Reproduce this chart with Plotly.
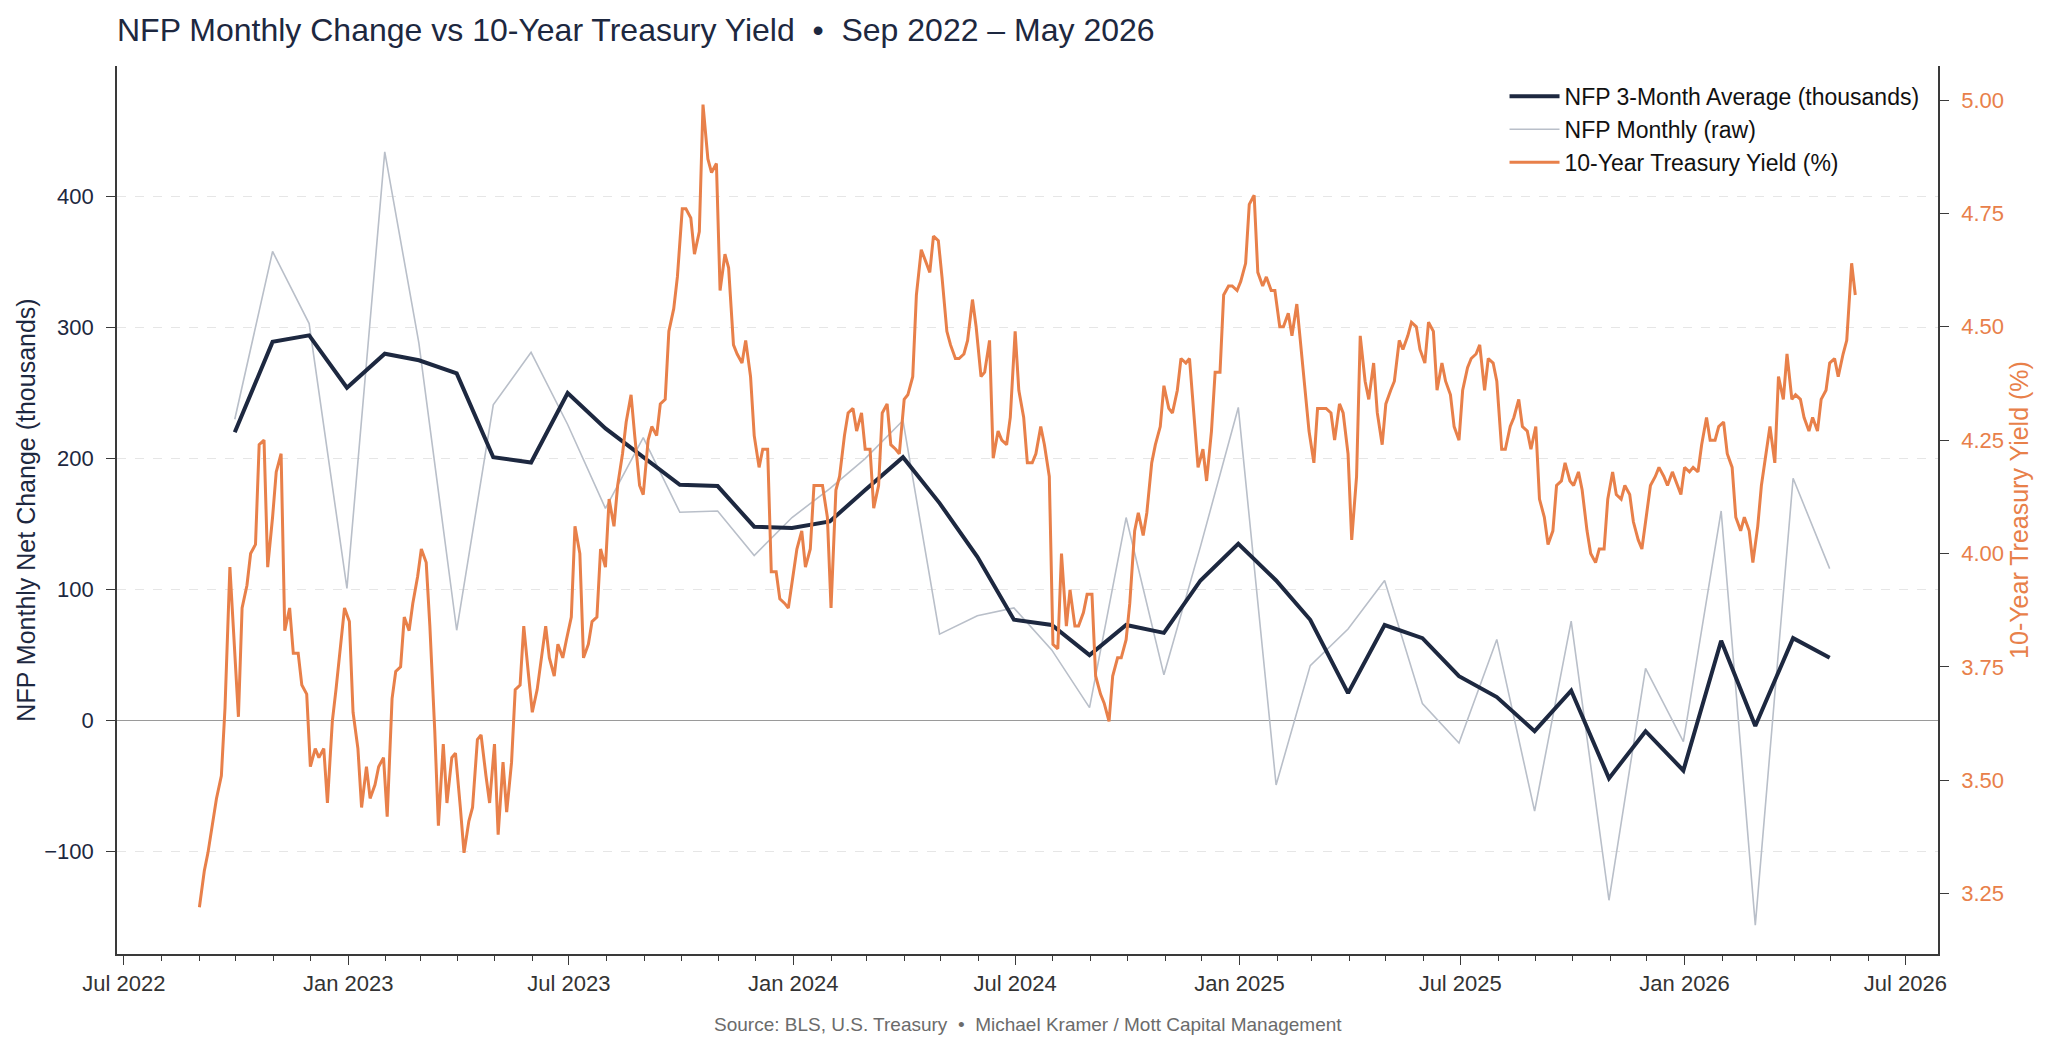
import pandas as pd
import plotly.graph_objects as go

# ---------------- data ----------------
nfp_months = pd.period_range("2022-09", "2026-04", freq="M")
nfp_dates = nfp_months.to_timestamp(how="end").normalize()

nfp_raw = [230, 358, 303, 101,
           434, 288, 69, 241, 281, 226, 162, 216, 159, 160, 126, 155,
           177, 200, 229, 66, 80, 86, 54, 10, 155, 35, 133, 239,
           -49, 42, 70, 107, 13, -17, 62, -69, 76, -137, 40, -16,
           160, -156, 185, 116]

nfp_3m = [220, 289, 294, 254,
          280, 275, 265, 201, 197, 250, 223, 201, 180, 179, 148, 147,
          152, 176, 201, 166, 125, 77, 73, 50, 73, 67, 107, 135,
          107, 77, 21, 73, 63, 34, 18, -8, 23, -44, -8, -38,
          61, -4, 63, 48]

left_ticks = [-100, 0, 100, 200, 300, 400]
right_ticks = [3.25, 3.50, 3.75, 4.00, 4.25, 4.50, 4.75, 5.00]

# 10-year yield, read twice a week (Thursdays and the following Mondays)
yield_thu_dates = pd.date_range("2022-09-01", periods=195, freq="7D")
yield_thu = [
    3.22, 3.34, 3.46, 3.66, 3.82, 3.88, 4.00, 4.24, 3.97, 4.18,
    3.83, 3.78, 3.71, 3.53, 3.55, 3.45, 3.70, 3.88, 3.65, 3.44,
    3.46, 3.53, 3.42, 3.74, 3.86, 3.89, 4.01, 3.84, 3.40, 3.45,
    3.56, 3.34, 3.44, 3.60, 3.45, 3.38, 3.43, 3.70, 3.84, 3.65,
    3.76, 3.77, 3.80, 3.81, 4.06, 3.77, 3.85, 4.01, 4.12, 4.15,
    4.29, 4.26, 4.13, 4.28, 4.33, 4.49, 4.61, 4.76, 4.66, 4.99,
    4.84, 4.58, 4.63, 4.44, 4.47, 4.26, 4.23, 3.96, 3.90, 3.88,
    4.01, 3.97, 4.15, 4.15, 3.88, 4.17, 4.31, 4.27, 4.23, 4.10,
    4.31, 4.24, 4.22, 4.35, 4.57, 4.65, 4.70, 4.61, 4.46, 4.43,
    4.47, 4.50, 4.40, 4.21, 4.25, 4.30, 4.36, 4.20, 4.22, 4.24,
    3.80, 4.00, 3.92, 3.84, 3.91, 3.73, 3.67, 3.73, 3.77, 3.89,
    4.09, 4.09, 4.24, 4.37, 4.31, 4.43, 4.43, 4.19, 4.16, 4.40,
    4.57, 4.59, 4.60, 4.77, 4.62, 4.61, 4.58, 4.50, 4.48, 4.47,
    4.27, 4.32, 4.32, 4.25, 4.31, 4.03, 4.48, 4.34, 4.31, 4.33,
    4.38, 4.45, 4.51, 4.45, 4.51, 4.36, 4.38, 4.28, 4.36, 4.43,
    4.46, 4.43, 4.38, 4.23, 4.30, 4.28, 4.23, 4.12, 4.02, 4.15,
    4.20, 4.15, 4.14, 4.00, 4.01, 4.12, 4.13, 4.15, 4.07, 4.01,
    4.15, 4.19, 4.15, 4.16, 4.19, 4.19, 4.24, 4.25, 4.28, 4.22,
    4.08, 4.08, 3.98, 4.15, 4.28, 4.39, 4.44, 4.35, 4.30, 4.30,
    4.34, 4.42, 4.39, 4.47, 4.57,
]
yield_mon_dates = pd.date_range("2022-09-05", periods=194, freq="7D")
yield_mon = [
    3.30, 3.41, 3.51, 3.97, 3.64, 3.93, 4.02, 4.25, 4.08, 4.22,
    3.88, 3.78, 3.69, 3.57, 3.57, 3.63, 3.80, 3.85, 3.57, 3.53,
    3.49, 3.55, 3.68, 3.75, 3.83, 3.95, 3.98, 3.61, 3.58, 3.55,
    3.44, 3.41, 3.59, 3.51, 3.58, 3.54, 3.54, 3.71, 3.73, 3.70,
    3.84, 3.73, 3.77, 3.86, 4.00, 3.80, 3.86, 3.97, 4.06, 4.22,
    4.35, 4.15, 4.25, 4.26, 4.34, 4.54, 4.76, 4.74, 4.71, 4.87,
    4.86, 4.66, 4.46, 4.42, 4.39, 4.19, 4.23, 3.96, 3.89, 3.96,
    4.05, 4.01, 4.15, 4.08, 4.14, 4.26, 4.32, 4.31, 4.23, 4.15,
    4.33, 4.23, 4.34, 4.39, 4.67, 4.62, 4.69, 4.49, 4.43, 4.44,
    4.56, 4.39, 4.47, 4.27, 4.24, 4.49, 4.30, 4.20, 4.28, 4.17,
    3.79, 3.84, 3.84, 3.87, 3.91, 3.69, 3.63, 3.77, 3.81, 4.05,
    4.04, 4.20, 4.28, 4.32, 4.36, 4.42, 4.30, 4.23, 4.27, 4.40,
    4.59, 4.58, 4.64, 4.79, 4.59, 4.58, 4.50, 4.53, 4.55, 4.35,
    4.20, 4.32, 4.31, 4.33, 4.22, 4.17, 4.38, 4.42, 4.24, 4.36,
    4.47, 4.48, 4.50, 4.42, 4.49, 4.42, 4.35, 4.25, 4.41, 4.44,
    4.36, 4.42, 4.23, 4.28, 4.34, 4.27, 4.28, 4.08, 4.05, 4.16,
    4.16, 4.18, 4.05, 3.98, 4.01, 4.18, 4.12, 4.13, 4.03, 4.09,
    4.17, 4.17, 4.18, 4.13, 4.18, 4.18, 4.30, 4.25, 4.29, 4.19,
    4.05, 4.05, 4.06, 4.22, 4.20, 4.34, 4.34, 4.34, 4.27, 4.27,
    4.36, 4.43, 4.44, 4.64,
]

yld = pd.Series(yield_thu, index=yield_thu_dates)
yld = pd.concat([yld, pd.Series(yield_mon, index=yield_mon_dates)]).sort_index()

# ---------------- styling ----------------
NAVY = "#1d2840"
GRAY = "#b9bfc9"
ORANGE = "#e8804a"
AXIS = "#3a3a3a"
FONT = "Liberation Sans, Arial, Helvetica, sans-serif"

fig = go.Figure()

fig.add_trace(go.Scatter(
    x=nfp_dates, y=nfp_raw, name="NFP Monthly (raw)", mode="lines",
    line=dict(color=GRAY, width=1.6), legendrank=2, yaxis="y"))
fig.add_trace(go.Scatter(
    x=nfp_dates, y=nfp_3m, name="NFP 3-Month Average (thousands)", mode="lines",
    line=dict(color=NAVY, width=4), legendrank=1, yaxis="y"))
fig.add_trace(go.Scatter(
    x=yld.index, y=yld.values, name="10-Year Treasury Yield (%)", mode="lines",
    line=dict(color=ORANGE, width=3), legendrank=3, yaxis="y2"))

fig.update_layout(
    width=2048, height=1052,
    margin=dict(l=117, r=110, t=66, b=98, pad=0),
    paper_bgcolor="white", plot_bgcolor="white",
    font=dict(family=FONT, size=22, color=NAVY),
    title=dict(
        text="NFP Monthly Change vs 10-Year Treasury Yield\u00a0\u00a0•\u00a0\u00a0Sep 2022 – May 2026",
        x=117 / 2048, xanchor="left", xref="container",
        y=1 - 30 / 1052, yanchor="middle", yref="container",
        font=dict(size=32, color=NAVY, family=FONT)),
    showlegend=True,
    legend=dict(x=0.9926, xanchor="right", y=0.99, yanchor="top",
                bgcolor="rgba(0,0,0,0)", borderwidth=0, itemwidth=50,
                font=dict(size=23, color="#111111", family=FONT)),
    xaxis=dict(
        type="date",
        range=["2022-06-25 10:00", "2026-07-27 20:00"],
        tick0="2022-07-01", dtick="M6", tickformat="%b %Y",
        ticks="outside", ticklen=9, tickwidth=1.3, tickcolor=AXIS,
        tickfont=dict(size=22, color="#333333"),
        showline=True, linecolor=AXIS, linewidth=1.6,
        showgrid=False, zeroline=False,
        minor=dict(dtick="M1", tick0="2022-07-01", ticks="outside",
                   ticklen=5, tickwidth=1, tickcolor=AXIS, showgrid=False),
        ticklabelstandoff=0,
    ),
    yaxis=dict(
        range=[-178, 499.5], tickmode="array", tickvals=left_ticks,
        ticks="outside", ticklen=9, tickwidth=1.3, tickcolor=AXIS,
        tickfont=dict(size=22, color=NAVY),
        showline=True, linecolor=AXIS, linewidth=1.6,
        showgrid=True, gridcolor="#e6e6e6", gridwidth=1, griddash="dash",
        zeroline=True, zerolinecolor="#9a9a9a", zerolinewidth=1.3,
        title=dict(text="NFP Monthly Net Change (thousands)",
                   font=dict(size=25, color=NAVY), standoff=1),
        ticklabelstandoff=8,
    ),
    yaxis2=dict(
        overlaying="y", side="right",
        range=[3.117, 5.075], tickmode="array", tickvals=right_ticks,
        tickformat=".2f",
        ticks="outside", ticklen=9, tickwidth=1.3, tickcolor=AXIS,
        tickfont=dict(size=22, color=ORANGE),
        showline=True, linecolor=AXIS, linewidth=1.6,
        showgrid=False, zeroline=False,
        title=dict(text="10-Year Treasury Yield (%)",
                   font=dict(size=25, color=ORANGE), standoff=7),
        ticklabelstandoff=8,
    ),
    annotations=[dict(
        text="Source: BLS, U.S. Treasury\u00a0\u00a0•\u00a0\u00a0Michael Kramer / Mott Capital Management",
        xref="paper", yref="paper", x=0.5, y=-0.079,
        xanchor="center", yanchor="middle", showarrow=False,
        font=dict(size=19, color="#6b6b6b", family=FONT))],
)

fig.write_html("out.html")
